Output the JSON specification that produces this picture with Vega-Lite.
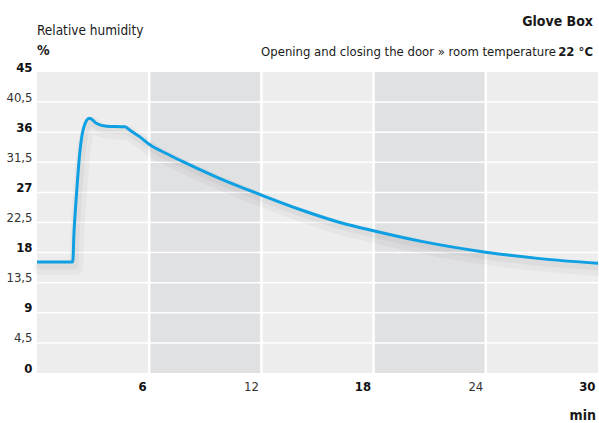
{
  "$schema": "https://vega.github.io/schema/vega-lite/v6.json",
  "width": 561,
  "height": 301,
  "autosize": {"type": "none"},
  "padding": {"left": 37, "top": 72, "right": 1, "bottom": 50},
  "background": "white",
  "config": {"view": {"stroke": null}, "font": "DejaVu Sans Condensed, sans-serif", "axis": {"labelOverlap": false}},
  "datasets": {
    "bands": [
      {"x0": 0, "x1": 6, "shade": "light"},
      {"x0": 6, "x1": 12, "shade": "dark"},
      {"x0": 12, "x1": 18, "shade": "light"},
      {"x0": 18, "x1": 24, "shade": "dark"},
      {"x0": 24, "x1": 30, "shade": "light"}
    ],
    "vgrid": [{"v": 6}, {"v": 12}, {"v": 18}, {"v": 24}],
    "hgrid": [{"h": 4.5}, {"h": 9}, {"h": 13.5}, {"h": 18}, {"h": 22.5}, {"h": 27}, {"h": 31.5}, {"h": 36}, {"h": 40.5}],
    "humidity": [
      {"t": 0, "v": 16.6},
      {"t": 1.91, "v": 16.6},
      {"t": 1.98, "v": 21.1},
      {"t": 2.07, "v": 25.1},
      {"t": 2.16, "v": 28.6},
      {"t": 2.26, "v": 32.1},
      {"t": 2.41, "v": 35.6},
      {"t": 2.57, "v": 37.3},
      {"t": 2.8, "v": 38.1},
      {"t": 3.19, "v": 37.3},
      {"t": 3.73, "v": 36.9},
      {"t": 4.71, "v": 36.8},
      {"t": 4.97, "v": 36.3},
      {"t": 5.5, "v": 35.3},
      {"t": 6.0, "v": 34.2},
      {"t": 7.0, "v": 32.7},
      {"t": 7.8, "v": 31.6},
      {"t": 9.6, "v": 29.3},
      {"t": 12.0, "v": 26.6},
      {"t": 14.1, "v": 24.4},
      {"t": 16.2, "v": 22.5},
      {"t": 18.1, "v": 21.2},
      {"t": 20.7, "v": 19.6},
      {"t": 23.9, "v": 18.1},
      {"t": 26.9, "v": 17.1},
      {"t": 30, "v": 16.4}
    ]
  },
  "layer": [
    {
      "data": {"name": "bands"},
      "mark": {"type": "rect"},
      "encoding": {
        "x": {
          "field": "x0", "type": "quantitative",
          "scale": {"domain": [0, 30], "nice": false, "zero": false},
          "axis": {
            "title": null, "values": [6, 12, 18, 24, 30], "tickCount": 30, "grid": false, "domain": false, "ticks": false,
            "labelAlign": "right", "labelBaseline": "top", "labelPadding": 7, "labelOffset": -3,
            "labelFontSize": 13, "labelColor": {"condition": {"test": "datum.value % 12 === 6", "value": "#111111"}, "value": "#333333"},
            "labelFontWeight": {"condition": {"test": "datum.value % 12 === 6", "value": "bold"}, "value": "normal"},
            "labelFlush": false, "labelOverlap": false
          }
        },
        "x2": {"field": "x1"},
        "y": {
          "datum": 0, "type": "quantitative",
          "scale": {"domain": [0, 45], "nice": false, "zero": true},
          "axis": {
            "title": null, "values": [0, 4.5, 9, 13.5, 18, 22.5, 27, 31.5, 36, 40.5, 45], "tickCount": 30, "grid": false, "domain": false, "ticks": false,
            "format": ".1~f",
            "labelExpr": "replace(datum.label, '.', ',')",
            "labelAlign": "right", "labelBaseline": "alphabetic", "labelPadding": 5, "labelOffset": -1,
            "labelFontSize": 13, "labelColor": {"condition": {"test": "datum.value % 9 === 0", "value": "#111111"}, "value": "#333333"},
            "labelFontWeight": {"condition": {"test": "datum.value % 9 === 0", "value": "bold"}, "value": "normal"},
            "labelFlush": false, "labelOverlap": false, "labelBound": false
          }
        },
        "y2": {"datum": 45},
        "color": {"field": "shade", "type": "nominal", "scale": {"domain": ["light", "dark"], "range": ["#ecedec", "#e0e1e3"]}, "legend": null}
      }
    },
    {
      "data": {"name": "vgrid"},
      "mark": {"type": "rule", "color": "white", "strokeWidth": 2.5},
      "encoding": {"x": {"field": "v", "type": "quantitative"}}
    },
    {
      "data": {"name": "hgrid"},
      "mark": {"type": "rule", "color": "white", "strokeWidth": 1.5},
      "encoding": {"y": {"field": "h", "type": "quantitative"}}
    },
    {
      "data": {"name": "humidity"},
      "mark": {"type": "line", "color": "#000000", "opacity": 0.03, "strokeWidth": 14, "interpolate": "monotone", "xOffset": 3, "yOffset": 6, "strokeCap": "round"},
      "encoding": {"x": {"field": "t", "type": "quantitative"}, "y": {"field": "v", "type": "quantitative"}}
    },
    {
      "data": {"name": "humidity"},
      "mark": {"type": "line", "color": "#000000", "opacity": 0.035, "strokeWidth": 7, "interpolate": "monotone", "xOffset": 2, "yOffset": 4, "strokeCap": "round"},
      "encoding": {"x": {"field": "t", "type": "quantitative"}, "y": {"field": "v", "type": "quantitative"}}
    },
    {
      "data": {"name": "humidity"},
      "mark": {"type": "line", "color": "#0ea0e2", "strokeWidth": 3, "interpolate": "monotone"},
      "encoding": {"x": {"field": "t", "type": "quantitative"}, "y": {"field": "v", "type": "quantitative"}}
    },
    {
      "data": {"values": [{"label": "Glove Box"}]},
      "mark": {"type": "text", "align": "right", "baseline": "alphabetic", "fontSize": 14, "fontWeight": "bold", "color": "#1a1a1a", "dx": -5, "dy": -46},
      "encoding": {"x": {"datum": 30, "type": "quantitative"}, "y": {"datum": 45, "type": "quantitative"}, "text": {"field": "label"}}
    },
    {
      "data": {"values": [{"label": "22 °C"}]},
      "mark": {"type": "text", "align": "right", "baseline": "alphabetic", "fontSize": 13, "fontWeight": "bold", "color": "#1a1a1a", "dx": -5, "dy": -16},
      "encoding": {"x": {"datum": 30, "type": "quantitative"}, "y": {"datum": 45, "type": "quantitative"}, "text": {"field": "label"}}
    },
    {
      "data": {"values": [{"label": "Opening and closing the door » room temperature"}]},
      "mark": {"type": "text", "align": "right", "baseline": "alphabetic", "fontSize": 13, "color": "#1a1a1a", "dx": -42, "dy": -16},
      "encoding": {"x": {"datum": 30, "type": "quantitative"}, "y": {"datum": 45, "type": "quantitative"}, "text": {"field": "label"}}
    },
    {
      "data": {"values": [{"label": "Relative humidity"}]},
      "mark": {"type": "text", "align": "left", "baseline": "alphabetic", "fontSize": 13.5, "color": "#1a1a1a", "dx": 0, "dy": -37},
      "encoding": {"x": {"datum": 0, "type": "quantitative"}, "y": {"datum": 45, "type": "quantitative"}, "text": {"field": "label"}}
    },
    {
      "data": {"values": [{"label": "%"}]},
      "mark": {"type": "text", "align": "left", "baseline": "alphabetic", "fontSize": 14, "fontWeight": "bold", "color": "#1a1a1a", "dx": 0, "dy": -17},
      "encoding": {"x": {"datum": 0, "type": "quantitative"}, "y": {"datum": 45, "type": "quantitative"}, "text": {"field": "label"}}
    },
    {
      "data": {"values": [{"label": "min"}]},
      "mark": {"type": "text", "align": "right", "baseline": "alphabetic", "fontSize": 14, "fontWeight": "bold", "color": "#1a1a1a", "dx": -2, "dy": 47},
      "encoding": {"x": {"datum": 30, "type": "quantitative"}, "y": {"datum": 0, "type": "quantitative"}, "text": {"field": "label"}}
    }
  ]
}
